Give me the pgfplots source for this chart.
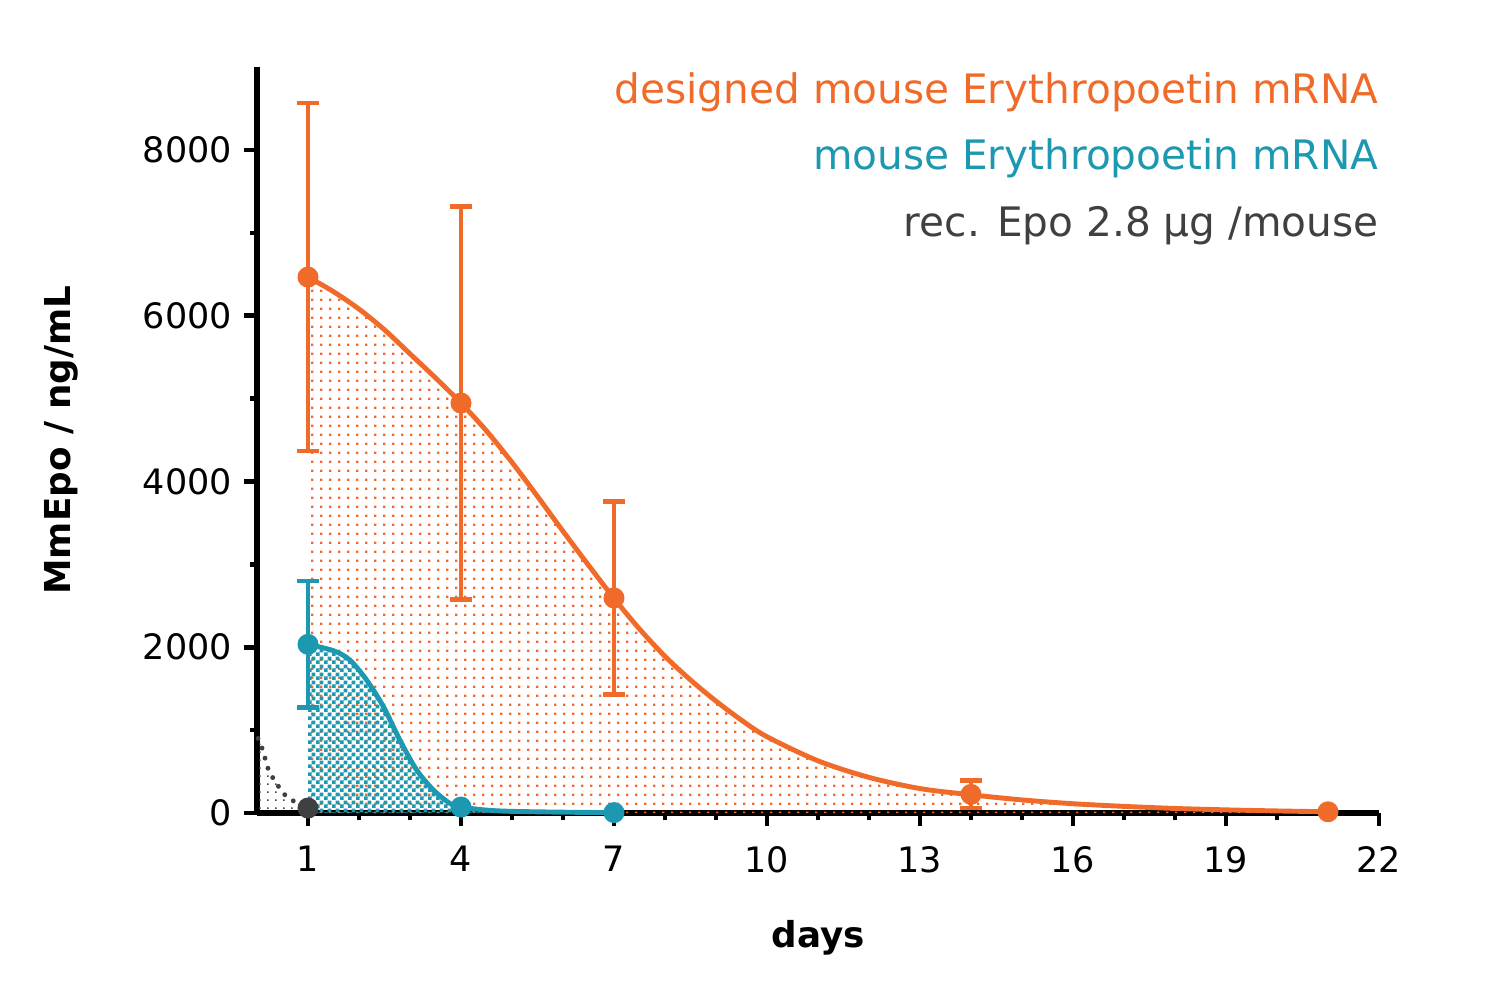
\documentclass[border=0pt]{standalone}
\usepackage{fontspec}
\setmainfont{DejaVu Sans}
\usepackage{pgfplots}
\pgfplotsset{compat=1.18}
\usetikzlibrary{patterns}
\definecolor{cOr}{RGB}{240,106,42}
\definecolor{cTe}{RGB}{28,152,176}
\definecolor{cGr}{RGB}{64,64,64}

\pgfdeclarepatternformonly{odots}{\pgfqpoint{0pt}{0pt}}{\pgfqpoint{2.7pt}{2.7pt}}{\pgfqpoint{2.7pt}{2.7pt}}{%
  \pgfpathrectangle{\pgfqpoint{0pt}{0pt}}{\pgfqpoint{0.75pt}{0.75pt}}\pgfusepath{fill}}
\pgfdeclarepatternformonly{gdots}{\pgfqpoint{0pt}{0pt}}{\pgfqpoint{2.4pt}{2.4pt}}{\pgfqpoint{2.4pt}{2.4pt}}{%
  \pgfpathrectangle{\pgfqpoint{0pt}{0pt}}{\pgfqpoint{0.5pt}{0.5pt}}\pgfusepath{fill}}
\pgfdeclarepatternformonly{tchecker}{\pgfqpoint{0pt}{0pt}}{\pgfqpoint{2.2pt}{2.2pt}}{\pgfqpoint{2.2pt}{2.2pt}}{%
  \pgfpathrectangle{\pgfqpoint{0pt}{0pt}}{\pgfqpoint{1.1pt}{1.1pt}}%
  \pgfpathrectangle{\pgfqpoint{1.1pt}{1.1pt}}{\pgfqpoint{1.1pt}{1.1pt}}\pgfusepath{fill}}

\begin{document}
\begin{tikzpicture}
\useasboundingbox (-73.43pt,-51.43pt) rectangle (358pt,232.29pt);
\begin{axis}[
  at={(0,0)}, anchor=south west,
  scale only axis, width=320.57pt, height=213.14pt,
  xmin=0, xmax=22, ymin=0, ymax=9000,
  clip=false,
  axis lines=left,
  axis line style={line width=1.5pt, -},
  xtick={1,4,7,10,13,16,19,22},
  minor x tick num=2,
  ytick={0,2000,4000,6000,8000},
  minor y tick num=1,
  tick align=outside,
  major tick length=3.6pt, minor tick length=2.1pt,
  tick style={line width=1.3pt, black},
  tick label style={font=\fontsize{10}{12}\selectfont},
  xticklabel style={yshift=-2.3pt},
  /pgf/number format/assume math mode=true,
  /pgf/number format/1000 sep={},
  scaled y ticks=false,
  xlabel={days}, ylabel={MmEpo / ng/mL},
  label style={font=\bfseries\fontsize{10.2}{12}\selectfont},
  xlabel style={at={(axis description cs:0.5,-0.1675)}, anchor=center},
  ylabel style={at={(axis description cs:-0.1745,0.5)}, anchor=center},
]
% fills
\addplot[draw=none, pattern=odots, pattern color=cOr, smooth] coordinates {
(1,6466) (1.5,6290) (2,6080) (2.5,5830) (3,5540) (3.5,5250) (4,4946) (4.5,4610) (5,4230) (5.5,3820) (6,3400) (6.5,2990) (7,2590) (7.5,2220) (8,1890) (8.5,1605) (9,1350) (9.5,1120) (10,920) (11,630) (12,430) (13,295) (14,220) (15,158) (16,112) (17,80) (18,55) (19,38) (20,25) (21,15)
} \closedcycle;
\addplot[draw=none, pattern=tchecker, pattern color=cTe, smooth] coordinates {
(1,2035) (1.5,1958) (1.82,1846) (2.15,1604) (2.48,1282) (2.8,881) (3.13,519) (3.46,277) (3.78,117) (4,72) (4.5,35) (5,20) (6,10) (7,5)
} \closedcycle;
\addplot[draw=none, pattern=gdots, pattern color=cGr, smooth] coordinates {
(0.02,900) (0.073,832) (0.157,663) (0.235,507) (0.39,350) (0.55,217) (0.78,121) (1,60)
} \closedcycle;
% curves
\addplot[cOr, line width=1.4pt, smooth] coordinates {
(1,6466) (1.5,6290) (2,6080) (2.5,5830) (3,5540) (3.5,5250) (4,4946) (4.5,4610) (5,4230) (5.5,3820) (6,3400) (6.5,2990) (7,2590) (7.5,2220) (8,1890) (8.5,1605) (9,1350) (9.5,1120) (10,920) (11,630) (12,430) (13,295) (14,220) (15,158) (16,112) (17,80) (18,55) (19,38) (20,25) (21,15)
};
\addplot[cTe, line width=1.4pt, smooth] coordinates {
(1,2035) (1.5,1958) (1.82,1846) (2.15,1604) (2.48,1282) (2.8,881) (3.13,519) (3.46,277) (3.78,117) (4,72) (4.5,35) (5,20) (6,10) (7,5)
};
\addplot[cGr, line width=1.4pt, line cap=round, dash pattern=on 0pt off 3pt, smooth] coordinates {
(0.02,900) (0.073,832) (0.157,663) (0.235,507) (0.39,350) (0.55,217) (0.78,121) (1,60)
};
% data points with error bars
\addplot[only marks, mark=*, mark size=2.8pt, color=cOr,
  error bars/.cd, y dir=both, y explicit,
  error bar style={line width=1.3pt, cOr},
  error mark options={rotate=90, line width=1.3pt, mark size=3.2pt, cOr}]
coordinates {
(1,6466) +- (0,2100)
(4,4946) +- (0,2370)
(7,2594) +- (0,1165)
(14,225) +- (0,165)
};
\addplot[only marks, mark=*, mark size=2.8pt, color=cOr] coordinates {(21,15)};
\addplot[only marks, mark=*, mark size=2.8pt, color=cTe,
  error bars/.cd, y dir=both, y explicit,
  error bar style={line width=1.3pt, cTe},
  error mark options={rotate=90, line width=1.3pt, mark size=3.2pt, cTe}]
coordinates {
(1,2035) +- (0,765)
};
\addplot[only marks, mark=*, mark size=2.8pt, color=cTe] coordinates {(4,72) (7,5)};
\addplot[only marks, mark=*, mark size=2.8pt, color=cGr] coordinates {(1,60)};
% legend text
\node[anchor=base east, inner sep=0pt, text=cOr, font=\fontsize{11.6}{14}\selectfont] at (axis cs:22,8565) {designed mouse Erythropoetin mRNA};
\node[anchor=base east, inner sep=0pt, text=cTe, font=\fontsize{11.6}{14}\selectfont] at (axis cs:22,7762) {mouse Erythropoetin mRNA};
\node[anchor=base east, inner sep=0pt, text=cGr, font=\fontsize{11.6}{14}\selectfont] at (axis cs:22,6960) {rec. Epo 2.8 µg /mouse};
\end{axis}
\end{tikzpicture}
\end{document}
